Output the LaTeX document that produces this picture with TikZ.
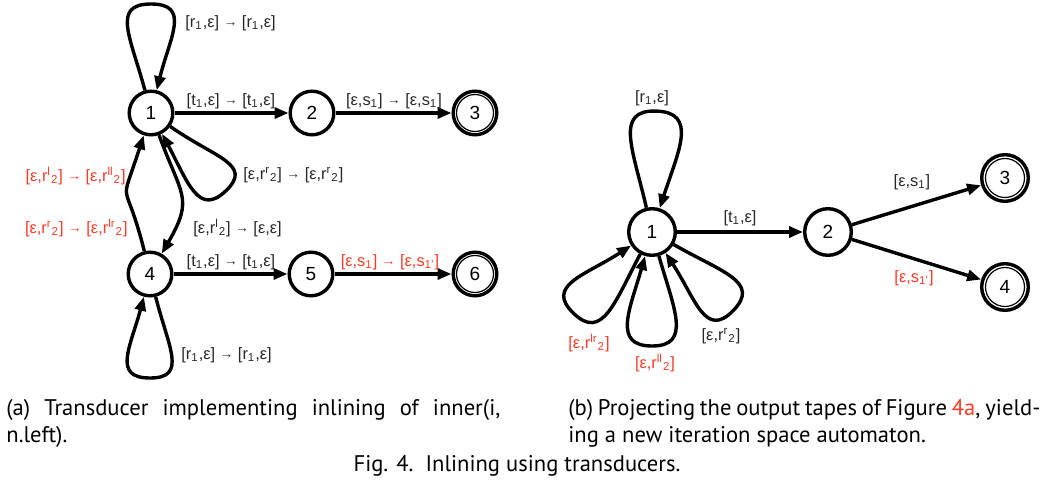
\documentclass[tikz,border=0pt]{standalone}
\usepackage{fontspec}
\setmainfont{Liberation Sans}
\newfontfamily\capfont{PT Sans}
\usetikzlibrary{arrows.meta,calc}
\definecolor{lred}{RGB}{250,60,40}
\definecolor{lgray}{RGB}{40,40,40}
\tikzset{
  st/.style={circle,draw,line width=1.7pt,minimum size=21.8pt,inner sep=0pt,font=\fontsize{9.5}{10}\selectfont},
  stb/.style={st,minimum size=23.3pt},
  arc/.style={line width=1.7pt,-{Triangle[length=7pt,width=5.5pt]}},
  lab/.style={font=\fontsize{8.2}{9}\selectfont,text=lgray,inner sep=0pt},
  rlab/.style={lab,text=lred},
  captext/.style={font=\capfont\fontsize{11.3}{12}\selectfont,inner sep=0pt},
  ring/.style={line width=0.6pt},
}
\newcommand\sbs[1]{\textsubscript{#1}}
\newcommand\sps[1]{\textsuperscript{#1}}
\newcommand\tarr{\raisebox{0.4pt}{\fontsize{6.8}{7}\selectfont →}}
% petal loop: node, start angle, end angle, axis angle, apex distance, half width, start control
\newcommand\petal[7]{%
  \draw[arc] (#1.#2) .. controls ($(#1.#2)+(#2:#7)$) and ($(#1.center)+(#4:#5)+(#4+90:#6)$) .. ($(#1.center)+(#4:#5)$)
    .. controls ($(#1.center)+(#4:#5)+(#4-90:#6)$) and ($(#1.#3)+(#3:#7)$) .. (#1.#3);}
\begin{document}
\begin{tikzpicture}[x=0.5pt,y=0.5pt]
\useasboundingbox (0,0) rectangle (1059,-481);
% ---------- left transducer ----------
\node[st] (a1) at (151,-113) {1};
\node[st] (a2) at (312,-113) {2};
\node[st] (a3) at (475,-113) {3};
\node[st] (a4) at (150,-274) {4};
\node[st] (a5) at (311,-274) {5};
\node[st] (a6) at (475,-274) {6};
\draw[ring] (a3.center) circle[radius=18.5];
\draw[ring] (a6.center) circle[radius=18.5];
\draw[arc] (a1) -- (a2);
\draw[arc] (a2) -- (a3);
\draw[arc] (a4) -- (a5);
\draw[arc] (a5) -- (a6);
\draw[arc] (a1) to[out=-70,in=60,looseness=1.4] (a4);
\draw[arc] (a4) to[out=104,in=-108,looseness=1.8] (a1);
\petal{a1}{105}{76}{90}{109}{40}{55}
\petal{a4}{-76}{-105}{-90}{104}{38}{52}
\petal{a1}{-35}{-62}{-46}{108}{38}{55}
\node[lab,anchor=west] (l1) at (185,-23) {[r\sbs1,ε] \tarr{} [r\sbs1,ε]};
\node[lab] (l2) at (231,-101) {[t\sbs1,ε] \tarr{} [t\sbs1,ε]};
\node[lab] (l3) at (394,-101) {[ε,s\sbs1] \tarr{} [ε,s\sbs1]};
\node[lab,anchor=west] (l4) at (243,-175) {[ε,r\sps{r}\sbs2] \tarr{} [ε,r\sps{r}\sbs2]};
\node[lab,anchor=west] (l5) at (193,-228) {[ε,r\sps{l}\sbs2] \tarr{} [ε,ε]};
\node[rlab,anchor=east] (l6) at (126,-176) {[ε,r\sps{l}\sbs2] \tarr{} [ε,r\sps{ll}\sbs2]};
\node[rlab,anchor=east] (l7) at (128,-228) {[ε,r\sps{r}\sbs2] \tarr{} [ε,r\sps{lr}\sbs2]};
\node[lab] (l8) at (231,-262) {[t\sbs1,ε] \tarr{} [t\sbs1,ε]};
\node[rlab] (l9) at (390,-262) {[ε,s\sbs1] \tarr{} [ε,s\sbs{1'}]};
\node[lab,anchor=west] (l10) at (181,-355) {[r\sbs1,ε] \tarr{} [r\sbs1,ε]};
% ---------- right automaton ----------
\node[stb] (b1) at (652,-232) {1};
\node[stb] (b2) at (828,-232) {2};
\node[stb] (b3) at (1005,-178) {3};
\node[stb] (b4) at (1005,-287) {4};
\draw[ring] (b3.center) circle[radius=19.5];
\draw[ring] (b4.center) circle[radius=19.5];
\draw[arc] (b1) -- (b2);
\draw[arc] (b2) -- (b3);
\draw[arc] (b2) -- (b4);
\petal{b1}{103}{72}{88}{121}{42}{60}
\petal{b1}{-118}{-147}{-134}{113}{40}{55}
\petal{b1}{-74}{-106}{-90}{114}{40}{55}
\petal{b1}{-30}{-57}{-44}{113}{40}{55}
\node[lab] (m1) at (652,-98) {[r\sbs1,ε]};
\node[lab] (m2) at (740,-218) {[t\sbs1,ε]};
\node[lab] (m3) at (912,-182) {[ε,s\sbs1]};
\node[rlab] (m4) at (914,-278) {[ε,s\sbs{1'}]};
\node[rlab] (m5) at (589,-343) {[ε,r\sps{lr}\sbs2]};
\node[rlab] (m6) at (655,-363) {[ε,r\sps{ll}\sbs2]};
\node[lab] (m7) at (721,-336) {[ε,r\sps{r}\sbs2]};
% ---------- captions ----------
\node[captext,anchor=base west] (c1) at (6,-415) {\hbox to 247pt{(a) Transducer implementing inlining of inner(i,}};
\node[captext,anchor=base west] (c2) at (6,-442) {n.left).};
\node[captext,anchor=base west] (c3) at (568,-415) {\hbox to 236pt{(b) Projecting the output tapes of Figure \textcolor{lred}{4a}, yield-}};
\node[captext,anchor=base west] (c4) at (568,-442) {ing a new iteration space automaton.};
\node[captext,anchor=base] (c5) at (517,-471) {Fig. 4.\ \ Inlining using transducers.};
\end{tikzpicture}
\end{document}
